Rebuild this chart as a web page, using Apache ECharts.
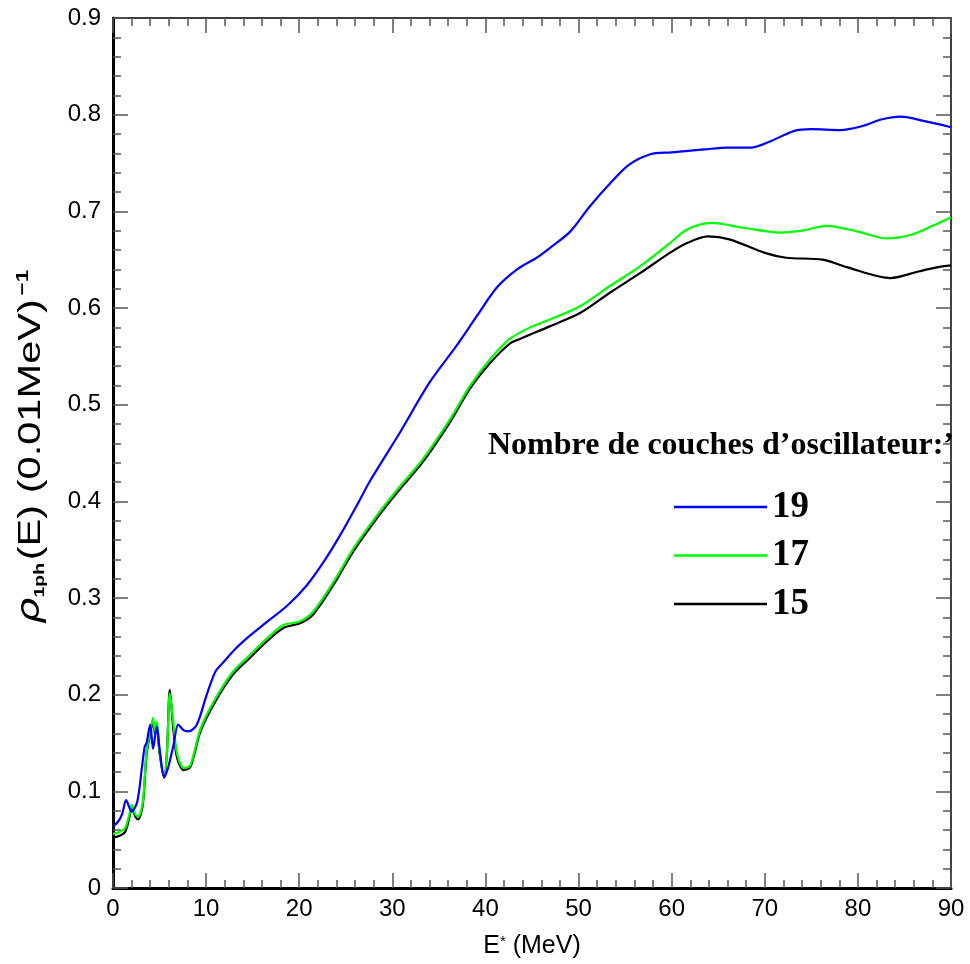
<!DOCTYPE html>
<html>
<head>
<meta charset="utf-8">
<title>Densité de niveaux 1p-1h</title>
<script src="https://cdn.jsdelivr.net/npm/echarts@6/dist/echarts.min.js"></script>
<style>
  html, body { margin: 0; padding: 0; background: #ffffff; }
  #chart { width: 970px; height: 964px; }
</style>
</head>
<body>
<div id="chart"></div>
<script>
// Excitation energy E* (MeV) and one-particle-one-hole level density for each basis size
const e19 = [0, 0.5, 1.0, 1.4, 2.0, 2.6, 3.1, 3.4, 3.6, 4.0, 4.3, 4.7, 5.0, 5.5, 5.9, 6.5, 7.0, 7.6, 8.1, 9.0, 10.0, 11.0, 11.9, 13.0, 14.7, 16.5, 18.7, 20.8, 22.6, 24.4, 26.2, 27.6, 30.8, 34.0, 36.9, 39.1, 41.2, 43.4, 45.5, 46.9, 49.1, 51.2, 53.4, 55.4, 57.7, 60.0, 63.5, 66.0, 68.5, 70.5, 73.1, 75.0, 78.1, 80.4, 82.5, 84.6, 87.3, 90.0];
const rho19 = [0.064, 0.068, 0.077, 0.091, 0.079, 0.089, 0.124, 0.146, 0.150, 0.169, 0.144, 0.167, 0.144, 0.115, 0.124, 0.148, 0.169, 0.163, 0.162, 0.169, 0.198, 0.224, 0.234, 0.246, 0.261, 0.275, 0.292, 0.313, 0.337, 0.365, 0.396, 0.421, 0.471, 0.523, 0.561, 0.592, 0.621, 0.640, 0.652, 0.662, 0.679, 0.705, 0.729, 0.748, 0.759, 0.761, 0.764, 0.766, 0.766, 0.772, 0.783, 0.785, 0.784, 0.788, 0.795, 0.798, 0.793, 0.787];

const e17 = [0, 0.7, 1.3, 1.75, 2.0, 2.4, 2.7, 3.2, 3.6, 4.0, 4.3, 4.5, 4.7, 5.0, 5.5, 5.8, 6.1, 6.5, 6.9, 7.6, 8.3, 9.4, 11.0, 12.9, 14.7, 16.5, 18.3, 20.1, 21.5, 23.7, 25.8, 28.3, 30.6, 33.3, 36.2, 38.3, 40.5, 42.6, 44.8, 46.9, 50.2, 53.4, 56.6, 59.8, 61.6, 64.3, 67.7, 71.6, 74.0, 76.6, 80.0, 83.1, 85.8, 88.0, 90.0];
const rho17 = [0.056, 0.058, 0.062, 0.076, 0.086, 0.076, 0.074, 0.089, 0.141, 0.162, 0.176, 0.162, 0.172, 0.141, 0.115, 0.141, 0.201, 0.169, 0.138, 0.124, 0.127, 0.165, 0.196, 0.224, 0.241, 0.258, 0.272, 0.276, 0.286, 0.317, 0.351, 0.385, 0.413, 0.444, 0.485, 0.519, 0.547, 0.568, 0.580, 0.588, 0.602, 0.623, 0.643, 0.667, 0.681, 0.688, 0.683, 0.678, 0.680, 0.685, 0.679, 0.672, 0.676, 0.685, 0.694];

const e15 = [0, 0.7, 1.3, 1.75, 2.0, 2.4, 2.7, 3.2, 3.6, 4.0, 4.3, 4.5, 4.7, 5.0, 5.5, 5.8, 6.1, 6.5, 6.9, 7.6, 8.3, 9.4, 11.0, 12.9, 14.7, 16.5, 18.3, 20.1, 21.5, 23.7, 25.8, 28.3, 30.6, 33.3, 36.2, 38.3, 40.5, 42.6, 43.7, 46.9, 50.2, 53.4, 56.6, 59.8, 61.6, 63.9, 66.2, 70.0, 72.3, 76.2, 78.9, 83.5, 86.6, 88.5, 90.0];
const rho15 = [0.052, 0.054, 0.058, 0.073, 0.084, 0.074, 0.071, 0.086, 0.138, 0.160, 0.172, 0.160, 0.170, 0.140, 0.114, 0.142, 0.205, 0.162, 0.134, 0.122, 0.125, 0.162, 0.193, 0.221, 0.238, 0.255, 0.269, 0.274, 0.283, 0.314, 0.348, 0.382, 0.410, 0.441, 0.482, 0.516, 0.543, 0.563, 0.568, 0.581, 0.595, 0.616, 0.636, 0.657, 0.667, 0.674, 0.671, 0.657, 0.652, 0.650, 0.642, 0.631, 0.638, 0.642, 0.644];

const seriesNames = ['19', '17', '15'];
const seriesColors = ['#0000ff', '#00ff00', '#000000'];
const xTicks = { min: 0, max: 90, step: 10 };
const yTicks = { min: 0, max: 0.9, step: 0.1 };

const pairs = (xs, ys) => xs.map((x, i) => [x, ys[i]]);

const chart = echarts.init(document.getElementById('chart'), null, { renderer: 'canvas' });

const labelFont = 'Liberation Sans';
const axisBase = {
  type: 'value',
  splitLine: { show: false },
  minorSplitLine: { show: false },
  axisTick: { show: true, inside: true, length: 15, lineStyle: { color: '#555', width: 1.5 } },
  minorTick: { show: true, splitNumber: 5, length: 8, lineStyle: { color: '#555', width: 1.5 } }
};

const option = {
  backgroundColor: '#ffffff',
  animation: false,
  grid: { left: 113, right: 19, top: 18, bottom: 74, containLabel: false },
  title: {
    text: 'Nombre de couches d\u2019oscillateur:\u2019',
    left: 483, top: 425,
    textStyle: { fontFamily: 'Liberation Serif', fontWeight: 'bold', fontSize: 32, color: '#000' }
  },
  legend: {
    data: seriesNames,
    orient: 'vertical',
    left: 669, top: 483,
    icon: 'rect',
    itemWidth: 93, itemHeight: 2.5, itemGap: 10.5,
    textStyle: { fontFamily: 'Liberation Serif', fontWeight: 'bold', fontSize: 37, color: '#000', lineHeight: 38 }
  },
  // rotated y-axis title, stretched along its reading direction
  graphic: [{
    type: 'text',
    x: 31, y: 447,
    rotation: Math.PI / 2,
    scaleX: 1.3, scaleY: 1,
    style: {
      text: '{r|\u03c1}{sub|1ph}{m|(E) (0.01MeV)}{sup|\u22121}',
      align: 'center', verticalAlign: 'middle',
      rich: {
        r: { fontFamily: 'DejaVu Sans', fontStyle: 'italic', fontSize: 32, fill: '#000' },
        sub: { fontFamily: labelFont, fontWeight: 'bold', fontSize: 15, fill: '#000', padding: [17, 2, 0, 0] },
        m: { fontFamily: labelFont, fontSize: 32, fill: '#000' },
        sup: { fontFamily: labelFont, fontWeight: 'bold', fontSize: 17, fill: '#000', padding: [0, 0, 15, 3] }
      }
    }
  }],
  xAxis: [
    Object.assign({}, axisBase, {
      position: 'bottom',
      min: xTicks.min, max: xTicks.max, interval: xTicks.step,
      axisLine: { show: true, onZero: false, lineStyle: { color: '#000', width: 3 } },
      axisLabel: { show: true, margin: 9, fontFamily: labelFont, fontSize: 24, color: '#000' },
      name: '{m|E}{s|*}{m| (MeV)}',
      nameLocation: 'middle', nameGap: 46,
      nameTextStyle: {
        rich: {
          m: { fontFamily: labelFont, fontSize: 25, color: '#000' },
          s: { fontFamily: labelFont, fontSize: 15, color: '#000', verticalAlign: 'top', padding: [0, 0, 10, 0] }
        }
      }
    }),
    Object.assign({}, axisBase, {
      position: 'top',
      min: xTicks.min, max: xTicks.max, interval: xTicks.step,
      axisLine: { show: true, onZero: false, lineStyle: { color: '#000', width: 1.5 } },
      axisLabel: { show: false }
    })
  ],
  yAxis: [
    Object.assign({}, axisBase, {
      position: 'left',
      min: yTicks.min, max: yTicks.max, interval: yTicks.step,
      axisLine: { show: true, onZero: false, lineStyle: { color: '#000', width: 3 } },
      axisLabel: { show: true, margin: 12, fontFamily: labelFont, fontSize: 24, color: '#000' }
    }),
    Object.assign({}, axisBase, {
      position: 'right',
      min: yTicks.min, max: yTicks.max, interval: yTicks.step,
      axisLine: { show: true, onZero: false, lineStyle: { color: '#000', width: 1.5 } },
      axisLabel: { show: false }
    })
  ],
  series: [
    { name: '15', type: 'line', data: pairs(e15, rho15), color: seriesColors[2] },
    { name: '17', type: 'line', data: pairs(e17, rho17), color: seriesColors[1] },
    { name: '19', type: 'line', data: pairs(e19, rho19), color: seriesColors[0] }
  ].map(s => Object.assign(s, {
    xAxisIndex: 0, yAxisIndex: 0,
    showSymbol: false, symbol: 'none',
    smooth: 0.3,
    lineStyle: { width: 2.2, color: s.color },
    itemStyle: { color: s.color }
  }))
};

chart.setOption(option);
</script>
</body>
</html>
